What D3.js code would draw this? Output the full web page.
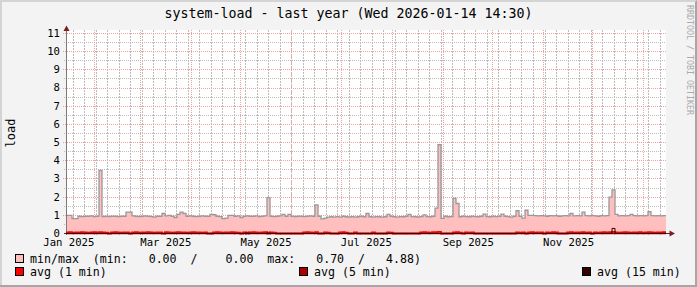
<!DOCTYPE html>
<html>
<head>
<meta charset="utf-8">
<script src="https://cdn.jsdelivr.net/npm/d3@7"></script>
<style>
  html, body { margin: 0; padding: 0; background: #f3f3f3; }
  svg { display: block; }
  text { font-family: "DejaVu Sans Mono", monospace; }
</style>
</head>
<body>
<div id="chart"></div>
<script>
// time range of the graph (last year, ending Wed 2026-01-14 14:30)
const startTime = Date.UTC(2025, 0, 14, 14, 30);
const endTime = Date.UTC(2026, 0, 14, 14, 30);

// max load per consolidation step (min is 0 everywhere)
const maxLoad = [
  1.0, 1.0, 0.82, 0.82, 0.95, 0.93, 0.95, 0.95, 0.97, 0.93,
  0.95, 3.47, 0.93, 0.95, 0.93, 0.95, 0.95, 0.93, 0.95, 0.95,
  1.18, 1.18, 0.97, 0.95, 0.93, 0.95, 0.97, 0.95, 0.93, 0.9,
  0.95, 0.95, 1.1, 0.97, 1.0, 0.95, 0.88, 1.05, 1.18, 1.1,
  0.95, 0.97, 0.95, 0.93, 0.95, 0.97, 0.95, 0.95, 1.05, 1.03,
  0.95, 0.93, 0.82, 0.85, 1.0, 1.0, 0.95, 0.97, 0.88, 0.95,
  0.97, 0.95, 0.95, 0.97, 0.93, 0.95, 0.97, 1.97, 0.95, 0.93,
  0.95, 0.97, 1.05, 0.95, 1.05, 0.95, 0.93, 0.95, 0.95, 0.93,
  0.95, 0.97, 0.95, 1.57, 0.95, 0.8, 0.85, 0.9, 0.92, 0.9,
  0.93, 0.9, 0.95, 0.92, 0.9, 0.93, 0.9, 0.92, 0.95, 0.92,
  1.1, 0.92, 0.9, 0.93, 0.92, 0.9, 0.92, 1.05, 0.95, 0.92,
  0.9, 0.93, 0.92, 0.95, 1.05, 0.93, 0.92, 0.9, 0.93, 1.02,
  0.93, 0.92, 0.95, 1.4, 4.88, 0.83, 0.95, 0.92, 0.93, 1.93,
  1.65, 0.92, 0.95, 0.93, 0.92, 0.95, 0.93, 0.92, 0.95, 1.07,
  0.93, 0.92, 0.95, 0.93, 0.95, 1.07, 0.95, 0.93, 0.9, 0.95,
  1.25, 0.95, 0.85, 1.28, 1.0, 1.0, 0.98, 0.97, 0.98, 0.97,
  0.95, 0.98, 0.97, 0.98, 0.95, 0.97, 0.98, 0.97, 1.1, 0.97,
  0.98, 0.97, 1.18, 0.98, 0.97, 0.98, 0.97, 0.95, 0.98, 0.97,
  0.98, 2.0, 2.4, 1.05, 0.97, 0.98, 0.97, 0.98, 1.05, 0.98,
  0.97, 0.98, 0.97, 0.98, 1.2, 0.98, 0.97, 0.98, 0.97, 0.98
];

const avg1 = [
  .06, .07, .05, .06, .06, .07, .06, .05, .06, .07,
  .06, .08, .06, .05, 0, .06, .07, .06, .05, .06,
  .06, 0, .06, .07, .05, .06, .06, .07, .06, .05,
  .06, .06, 0, .07, .06, .05, .06, .07, .06, .06,
  .05, .06, .07, .06, .06, .05, .06, 0, 0, .06,
  .07, .06, .05, .06, .06, .07, .06, .05, 0, .06,
  0, .06, .07, .06, .05, .06, .07, 0, .06, .05,
  0, 0, 0, 0, 0, 0, 0, 0, 0, .06,
  .07, .06, .05, .07, 0, 0, .06, .05, 0, 0,
  0, .06, .07, .05, 0, 0, .06, 0, 0, 0,
  0, 0, .06, 0, 0, 0, 0, .06, .05, 0,
  0, 0, 0, 0, 0, 0, 0, 0, .06, .07,
  .06, .05, .07, .08, .09, 0, 0, 0, 0, .06,
  .07, .05, 0, .06, .05, .06, 0, 0, 0, 0,
  0, 0, 0, 0, 0, 0, 0, 0, 0, 0,
  .06, .05, .06, 0, .06, .07, .05, .06, .06, 0,
  .06, .05, .07, .06, 0, 0, 0, .06, .07, .05,
  .06, .06, .07, .05, .06, 0, .06, .05, .06, .07,
  .06, .08, .09, .06, .05, .06, .07, .06, .05, .06,
  .06, .07, .05, .06, .07, .06, .05, .06, .06, .07
];

const avg5 = [
  0, 0, 0, 0, 0, 0, 0, 0, 0, 0,
  0, 0, 0, 0, 0, 0, 0, 0, 0, 0,
  0, 0, 0, 0, 0, 0, 0, 0, 0, 0,
  0, 0, 0, 0, 0, 0, 0, 0, 0, 0,
  0, 0, 0, 0, 0, 0, 0, 0, 0, 0,
  0, 0, 0, 0, 0, 0, 0, 0, 0, 0,
  .05, 0, 0, 0, 0, 0, 0, .06, 0, 0,
  0, 0, 0, 0, 0, 0, 0, 0, 0, 0,
  0, 0, 0, 0, 0, 0, 0, 0, 0, 0,
  0, 0, 0, 0, 0, 0, 0, 0, 0, 0,
  0, 0, 0, 0, 0, 0, 0, 0, 0, 0,
  0, 0, 0, 0, 0, 0, 0, 0, 0, 0,
  0, 0, 0, 0, 0, 0, 0, 0, 0, 0,
  0, 0, 0, 0, 0, 0, 0, 0, 0, 0,
  0, 0, 0, 0, 0, 0, 0, 0, 0, 0,
  0, 0, 0, 0, 0, 0, 0, 0, 0, 0,
  0, 0, 0, 0, 0, 0, 0, 0, 0, 0,
  0, 0, 0, 0, 0, 0, 0, 0, 0, 0,
  0, 0, 0, 0, 0, 0, 0, 0, 0, 0,
  0, 0, 0, 0, 0, 0, 0, 0, 0, 0
];

const avg15 = [
  0, 0, 0, 0, 0, 0, 0, 0, 0, 0,
  0, 0, 0, 0, 0, 0, 0, 0, 0, 0,
  0, 0, 0, 0, 0, 0, 0, 0, 0, 0,
  0, 0, 0, 0, 0, 0, 0, 0, 0, 0,
  0, 0, 0, 0, 0, 0, 0, 0, 0, 0,
  0, 0, 0, 0, 0, 0, 0, 0, 0, 0,
  0, 0, 0, 0, 0, 0, 0, 0, 0, 0,
  0, 0, 0, 0, 0, 0, 0, 0, 0, 0,
  0, 0, 0, 0, 0, 0, 0, 0, 0, 0,
  0, 0, 0, 0, 0, 0, 0, 0, 0, 0,
  0, 0, 0, 0, 0, 0, 0, 0, 0, 0,
  0, 0, 0, 0, 0, 0, 0, 0, 0, 0,
  0, 0, 0, 0, 0, 0, 0, 0, 0, 0,
  0, 0, 0, 0, 0, 0, 0, 0, 0, 0,
  0, 0, 0, 0, 0, 0, 0, 0, 0, 0,
  0, 0, 0, 0, 0, 0, 0, 0, 0, 0,
  0, 0, 0, 0, 0, 0, 0, 0, 0, 0,
  0, 0, 0, 0, 0, 0, 0, 0, 0, 0,
  0, 0, .28, 0, 0, 0, 0, 0, 0, 0,
  0, 0, 0, 0, 0, 0, 0, 0, 0, 0
];

const yTicks = [0, 1, 2, 3, 4, 5, 6, 7, 8, 9, 10, 11];
const xLabels = ['Jan 2025', 'Mar 2025', 'May 2025', 'Jul 2025', 'Sep 2025', 'Nov 2025'];
// rrdtool puts month labels in the middle of the month
const xLabelDates = ['2025-01-16', '2025-03-16', '2025-05-16', '2025-07-16', '2025-09-16', '2025-11-16'];

const title = 'system-load - last year (Wed 2026-01-14 14:30)';
const legendMinMax = 'min/max  (min:   0.00  /    0.00  max:   0.70  /   4.88)';

const width = 697, height = 287;
const plotLeft = 66, plotRight = 666, plotBottom = 233, plotTop = 30;

const svg = d3.select('#chart').append('svg')
    .attr('width', width)
    .attr('height', height);

// background + 3d frame
svg.append('rect').attr('width', width).attr('height', height).attr('fill', '#f3f3f3');
svg.append('path').attr('d', `M0,0H${width}V2H2V${height}H0Z`).attr('fill', '#d4d4d4');
svg.append('path').attr('d', `M${width},0V${height}H0V${height - 2}H${width - 2}V2Z`).attr('fill', '#a6a6a6');

const x = d3.scaleUtc()
    .domain([startTime, endTime])
    .range([plotLeft, plotRight]);

// value 0 sits on the middle of the axis pixel row
const y = d3.scaleLinear()
    .domain([0, 11])
    .range([plotBottom + 0.5, 33.5]);

svg.append('rect')
    .attr('x', plotLeft).attr('y', plotTop)
    .attr('width', plotRight - plotLeft).attr('height', plotBottom - plotTop)
    .attr('fill', '#ffffff');

const crisp = v => Math.round(v - 0.5) + 0.5;

// minor grid
const minorY = d3.range(0.5, 11, 1);
svg.append('g').selectAll('line')
    .data(minorY)
    .enter().append('line')
    .attr('x1', plotLeft - 2).attr('x2', plotRight)
    .attr('y1', d => crisp(y(d))).attr('y2', d => crisp(y(d)))
    .attr('stroke', '#bcbcbc').attr('stroke-width', 1).attr('stroke-dasharray', '1,1');

const weeks = d3.utcSunday.range(new Date(startTime), new Date(endTime));
svg.append('g').selectAll('line')
    .data(weeks)
    .enter().append('line')
    .attr('x1', d => crisp(x(d))).attr('x2', d => crisp(x(d)))
    .attr('y1', plotTop).attr('y2', plotBottom + 2)
    .attr('stroke', '#bcbcbc').attr('stroke-width', 1).attr('stroke-dasharray', '2,1');

// major grid
svg.append('g').selectAll('line')
    .data(yTicks.slice(1))
    .enter().append('line')
    .attr('x1', plotLeft - 3).attr('x2', plotRight)
    .attr('y1', d => crisp(y(d))).attr('y2', d => crisp(y(d)))
    .attr('stroke', '#eaa4a4').attr('stroke-dasharray', '1,1');

const months = d3.utcMonth.range(new Date(startTime), new Date(endTime));
svg.append('g').selectAll('line')
    .data(months)
    .enter().append('line')
    .attr('x1', d => crisp(x(d))).attr('x2', d => crisp(x(d)))
    .attr('y1', plotTop).attr('y2', plotBottom + 3)
    .attr('stroke', '#eaa4a4').attr('stroke-dasharray', '1,1');

// series as steps
const stepMs = (endTime - startTime) / maxLoad.length;
function toPoints(vals) {
    const pts = vals.map((v, i) => ({t: new Date(startTime + i * stepMs), v: v}));
    pts.push({t: new Date(endTime), v: vals[vals.length - 1]});
    return pts;
}

const area = d3.area()
    .curve(d3.curveStepAfter)
    .x(d => x(d.t))
    .y0(y(0))
    .y1(d => y(d.v));

const line = d3.line()
    .curve(d3.curveStepAfter)
    .x(d => x(d.t))
    .y(d => y(d.v));

svg.append('path')
    .datum(toPoints(maxLoad))
    .attr('d', area)
    .attr('fill', '#ffbfbf');

svg.append('path')
    .datum(toPoints(maxLoad))
    .attr('d', line)
    .attr('fill', 'none')
    .attr('stroke', '#999999')
    .attr('stroke-width', 1.3);

// axes lines
svg.append('line')
    .attr('x1', plotLeft + 0.5).attr('x2', plotLeft + 0.5)
    .attr('y1', plotBottom + 2).attr('y2', 29)
    .attr('stroke', '#7a7a7a');
svg.append('line')
    .attr('x1', plotLeft - 2).attr('x2', 670)
    .attr('y1', plotBottom + 0.5).attr('y2', plotBottom + 0.5)
    .attr('stroke', '#333333');

// averages
const avgSeries = [
    {vals: avg1, color: '#ff0000', w: 1.8},
    {vals: avg5, color: '#aa0000', w: 1.5},
    {vals: avg15, color: '#330000', w: 1}
];
avgSeries.forEach(s => {
    svg.append('path')
        .datum(toPoints(s.vals))
        .attr('d', line)
        .attr('fill', 'none')
        .attr('stroke', s.color)
        .attr('stroke-width', s.w);
});

// arrows
svg.append('path')
    .attr('d', `M${plotLeft + 0.5},25.5L${plotLeft + 3.5},31L${plotLeft - 2.5},31Z`)
    .attr('fill', '#7f1d1d');
svg.append('path')
    .attr('d', `M675,${plotBottom + 0.5}L669.5,${plotBottom - 2.5}L669.5,${plotBottom + 3.5}Z`)
    .attr('fill', '#7f1d1d');

// axis labels
const yAxis = d3.axisLeft(y)
    .tickValues(yTicks)
    .tickSize(0)
    .tickPadding(6)
    .tickFormat(d3.format('d'));

svg.append('g')
    .attr('transform', `translate(${plotLeft}, -0.5)`)
    .call(yAxis)
    .call(g => g.select('.domain').remove())
    .attr('font-family', '"DejaVu Sans Mono", monospace')
    .attr('font-size', 10.6)
    .selectAll('text').attr('fill', '#000');

const xAxis = d3.axisBottom(x)
    .tickValues(xLabelDates.map(d => new Date(d + 'T00:00:00Z')))
    .tickSize(0)
    .tickPadding(4.5)
    .tickFormat((d, i) => xLabels[i]);

svg.append('g')
    .attr('transform', `translate(0, ${plotBottom + 0.5})`)
    .call(xAxis)
    .call(g => g.select('.domain').remove())
    .attr('font-family', '"DejaVu Sans Mono", monospace')
    .attr('font-size', 10.6)
    .selectAll('text').attr('fill', '#000');

// title
svg.append('text')
    .attr('x', 348.5).attr('y', 18)
    .attr('text-anchor', 'middle')
    .attr('font-size', 13.3)
    .text(title);

// vertical unit label
svg.append('text')
    .attr('transform', 'translate(15, 133) rotate(-90)')
    .attr('text-anchor', 'middle')
    .attr('font-size', 12)
    .text('load');

// watermark
svg.append('text')
    .attr('transform', 'translate(686.5, 5) rotate(90)')
    .attr('font-size', 8.3)
    .attr('fill', '#aaaaaa')
    .text('RRDTOOL / TOBI OETIKER');

// legend
function legendItem(sx, sy, color, label) {
    svg.append('rect')
        .attr('x', sx + 0.5).attr('y', sy + 0.5)
        .attr('width', 8).attr('height', 8)
        .attr('fill', color).attr('stroke', '#000');
    svg.append('text')
        .attr('x', sx + 15).attr('y', sy + 8.5)
        .attr('font-size', 11.6)
        .style('white-space', 'pre')
        .text(label);
}
legendItem(15, 254, '#ffbfbf', legendMinMax);
legendItem(15, 267, '#ff0000', 'avg (1 min)');
legendItem(299, 267, '#aa0000', 'avg (5 min)');
legendItem(582, 267, '#330000', 'avg (15 min)');
</script>
</body>
</html>
